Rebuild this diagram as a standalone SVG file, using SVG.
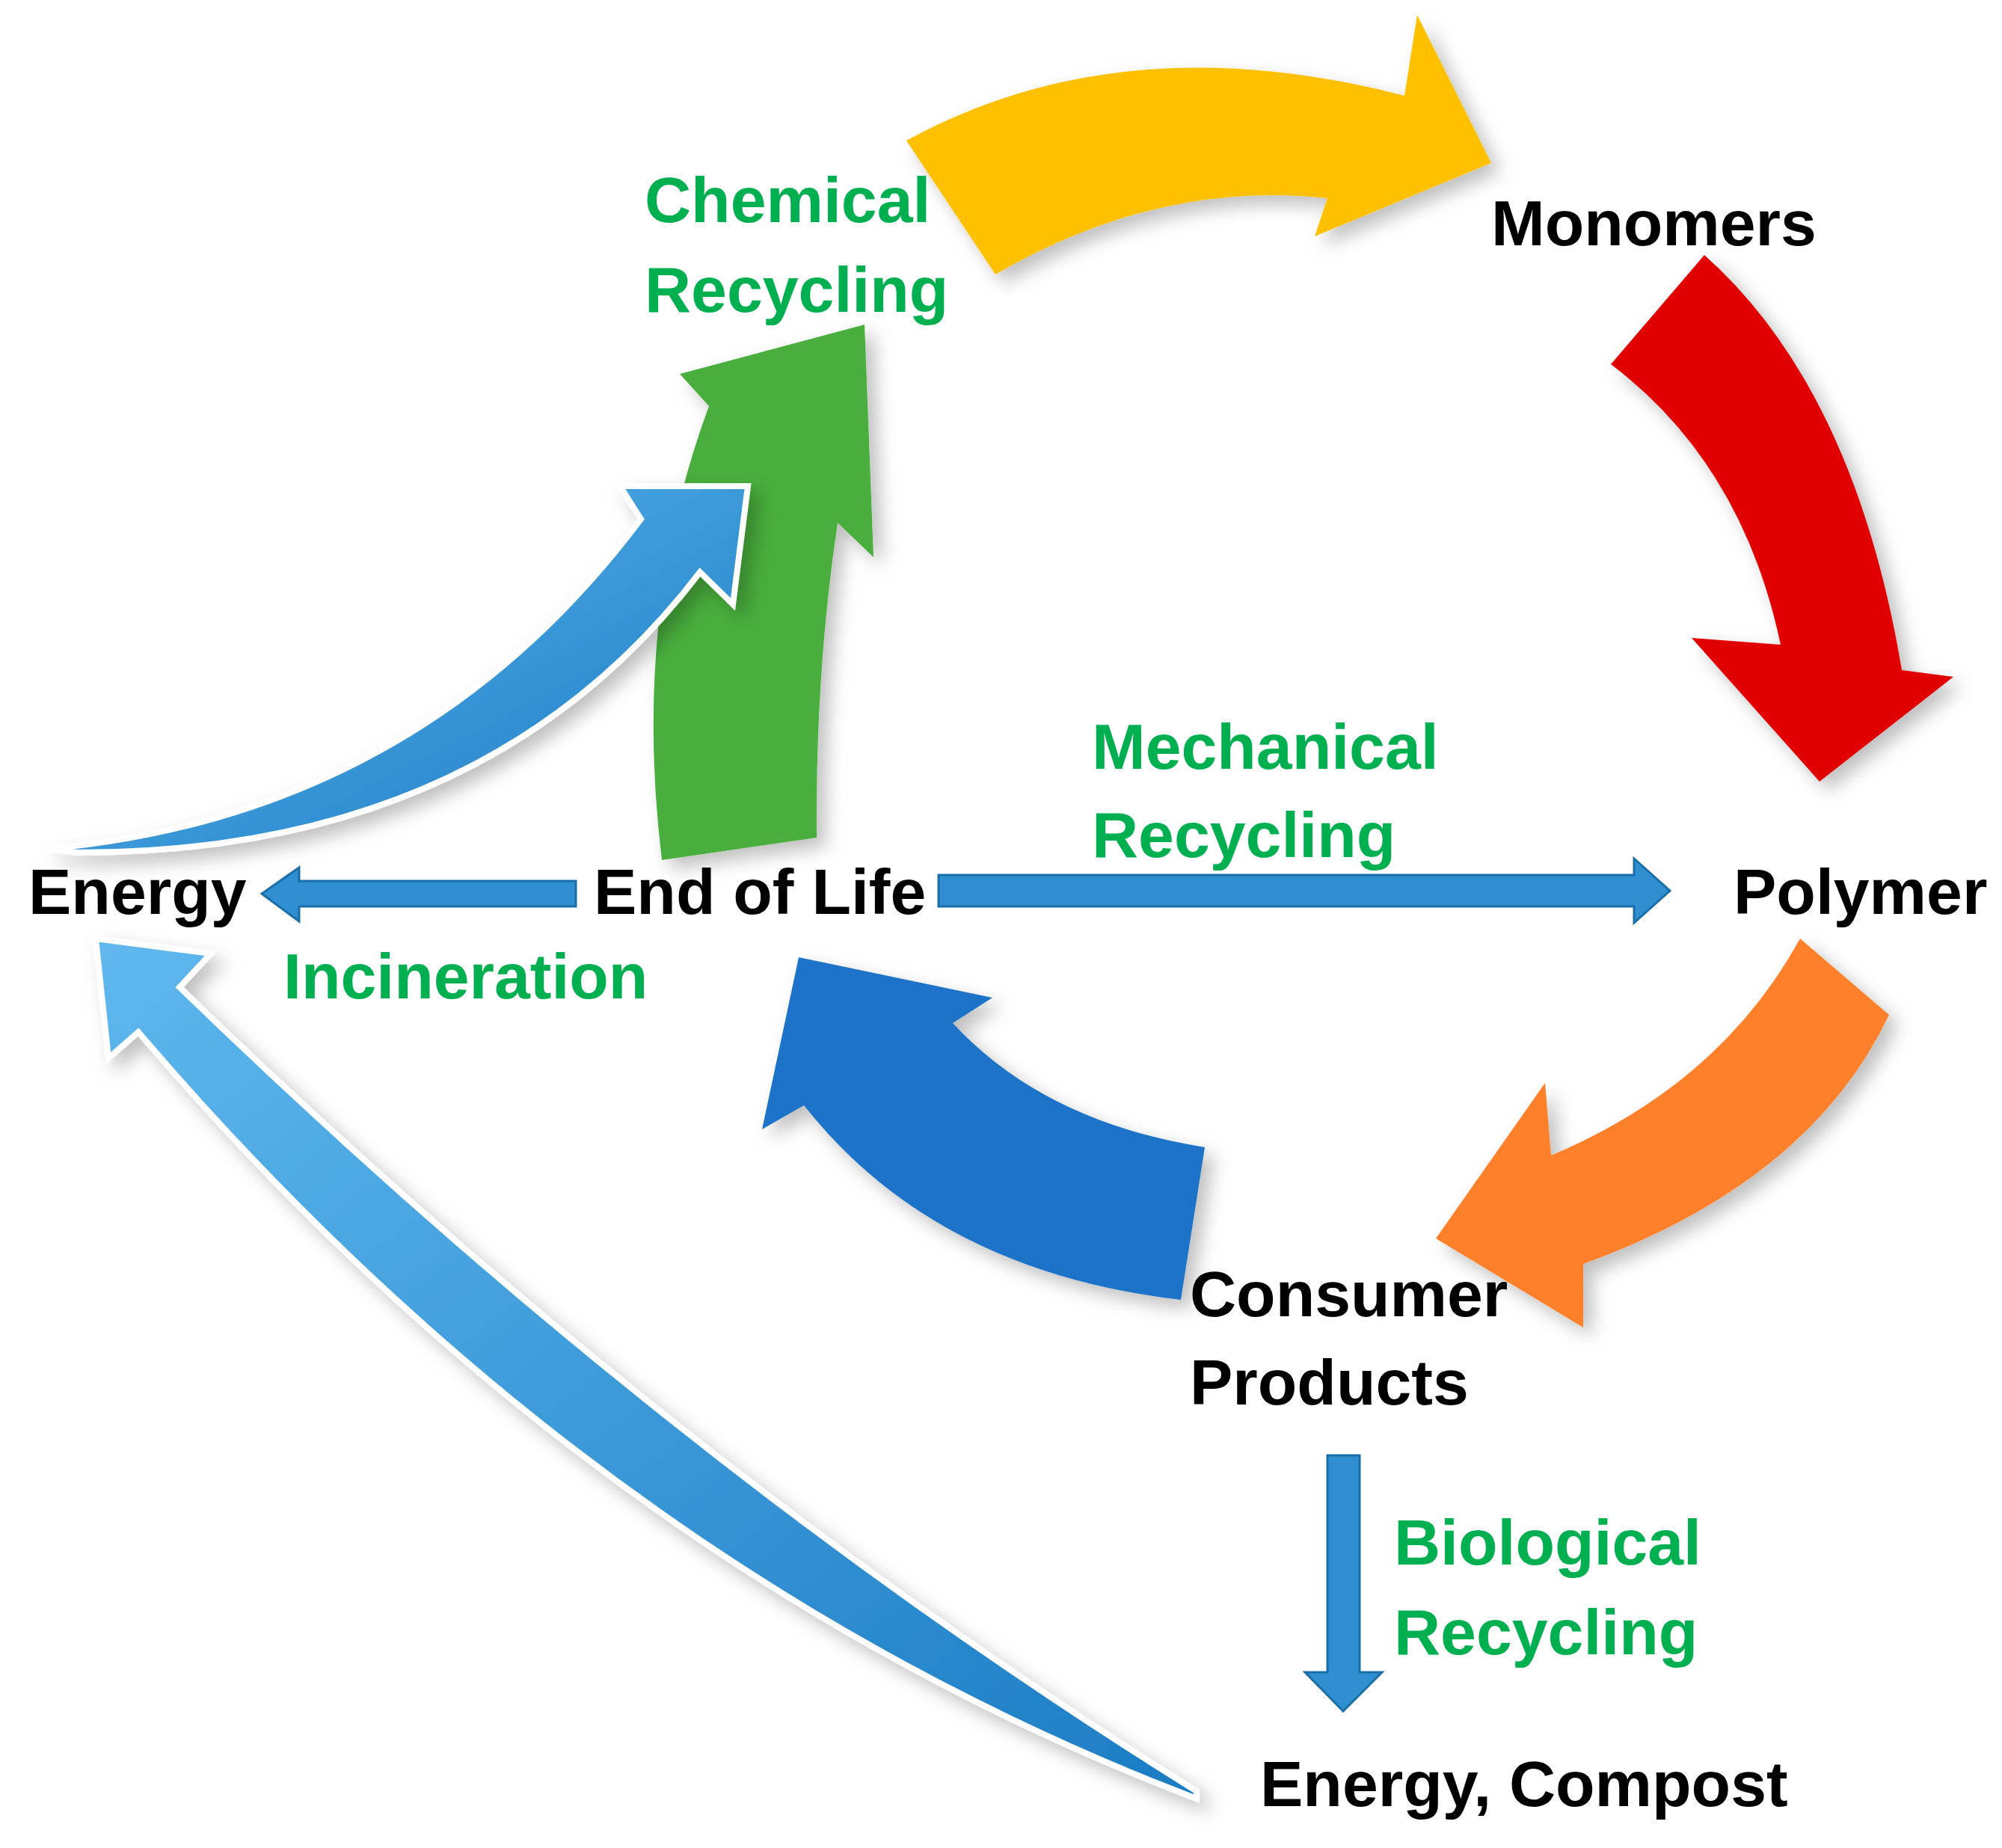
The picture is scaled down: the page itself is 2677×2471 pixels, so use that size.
<svg xmlns="http://www.w3.org/2000/svg" width="2677" height="2471" viewBox="0 0 2677 2471">
<style>
.t{font-family:"Liberation Sans",Arial,sans-serif;font-weight:bold;font-size:86px;fill:#000}
.g{font-family:"Liberation Sans",Arial,sans-serif;font-weight:bold;font-size:86px;fill:#00b050}
.s{stroke:#1b6fa8;stroke-width:3;fill:#2f8fd0}
</style>
<defs>
<filter id="sh" x="-20%" y="-20%" width="140%" height="140%"><feDropShadow dx="12" dy="12" stdDeviation="12" flood-color="#000" flood-opacity="0.25"/></filter>
<linearGradient id="bl" x1="0" y1="0" x2="1" y2="1"><stop offset="0" stop-color="#5fb8ee"/><stop offset="1" stop-color="#1b7cc4"/></linearGradient>
</defs>
<rect width="2677" height="2471" fill="#fff"/>
<g id="connectors">
<path id="yellow" filter="url(#sh)" fill="#ffc000" d="M1212,188 Q1500,30 1878,128 L1895,20 L1994,218 L1758,316 L1775,265 Q1550,240 1331,367 Z"/>
<path id="red" filter="url(#sh)" fill="#e00000" d="M2279,341 Q2480,520 2543,896 L2612,905 L2433,1045 L2262,853 L2381,862 Q2330,620 2154,487 Z"/>
<path id="orange" filter="url(#sh)" fill="#ff8029" d="M2407,1255 Q2300,1450 2074,1545 L2066,1448 L1920,1656 L2117,1775 L2117,1690 Q2420,1580 2526,1357 Z"/>
<path id="bluebig" filter="url(#sh)" fill="#1f73c8" d="M1068,1280 L1327,1334 L1274,1368 Q1396,1500 1611,1534 L1579,1738 Q1250,1700 1075,1478 L1019,1510 Z"/>
<path id="green" filter="url(#sh)" fill="#4aae3c" d="M1156,434 L1168,745 L1120,699 Q1090,900 1092,1120 L885,1150 Q845,820 948,543 L909,500 Z"/>
<path id="bluesmall" filter="url(#sh)" fill="url(#bl)" stroke="#fff" stroke-width="8" stroke-linejoin="miter" d="M64,1135 Q560,1090 857,694 L829,650 L1000,650 L980,808 L936,765 Q650,1140 104,1140 Z"/>
<path id="bluelong" filter="url(#sh)" fill="url(#bl)" stroke="#fff" stroke-width="8" d="M128,1255 L282,1275 L240,1320 Q900,1960 1600,2395 L1600,2405 Q800,2100 185,1380 L145,1415 Z"/>
<path id="incin" class="s" d="M350,1195 L400,1160 L400,1178 L770,1178 L770,1212 L400,1212 L400,1232 Z"/>
<path id="mech" class="s" d="M1255,1170 L2185,1170 L2185,1148 L2233,1191 L2185,1234 L2185,1212 L1255,1212 Z"/>
<path id="bio" class="s" d="M1775,1946 L1818,1946 L1818,2236 L1848,2236 L1796,2288 L1745,2236 L1775,2236 Z"/>
</g>
<g id="chem"><text class="g" x="862" y="297">Chemical</text><text class="g" x="862" y="417">Recycling</text></g>
<g id="monomers"><text class="t" x="1994" y="328">Monomers</text></g>
<g id="energy"><text class="t" x="38" y="1222">Energy</text></g>
<g id="eol"><text class="t" x="794" y="1222">End of Life</text></g>
<g id="polymer"><text class="t" x="2318" y="1222">Polymer</text></g>
<g id="incinlbl"><text class="g" x="379" y="1335">Incineration</text></g>
<g id="mechlbl"><text class="g" x="1460" y="1028">Mechanical</text><text class="g" x="1460" y="1146">Recycling</text></g>
<g id="consumer"><text class="t" x="1591" y="1760">Consumer</text><text class="t" x="1591" y="1878">Products</text></g>
<g id="biolbl"><text class="g" x="1864" y="2092">Biological</text><text class="g" x="1864" y="2212">Recycling</text></g>
<g id="compost"><text class="t" x="1685" y="2415">Energy, Compost</text></g>
</svg>
